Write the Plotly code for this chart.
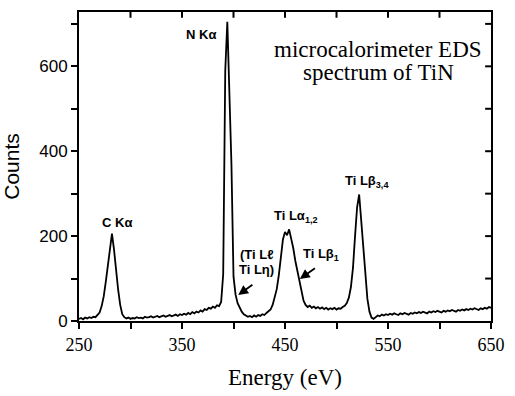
import plotly.graph_objects as go

# Energy bins (eV) and measured counts of the TiN spectrum
energy_ev = list(range(250, 651, 2))
counts = [
    5, 7, 4, 8, 6, 9, 7, 10, 9, 14,
    20, 35, 58, 92, 135, 178, 206, 168, 118, 74,
    38, 16, 9, 6, 8, 5, 7, 6, 9, 7,
    8, 6, 10, 8, 9, 11, 8, 10, 12, 9,
    11, 13, 10, 12, 14, 11, 13, 15, 12, 16,
    14, 17, 15, 19, 16, 21, 18, 22, 20, 25,
    22, 28, 26, 31, 29, 34, 31, 37, 35, 45,
    110, 590, 705, 515, 370, 105, 62, 42, 30, 22,
    16, 13, 10, 12, 9, 13, 10, 14, 12, 16,
    14, 19, 22, 27, 38, 55, 75, 108, 158, 192,
    210, 202, 216, 196, 172, 142, 118, 97, 70, 48,
    38, 33, 36, 31, 34, 30, 33, 29, 32, 28,
    31, 27, 30, 28, 31, 27, 30, 29, 33, 36,
    42, 55, 80, 125, 200, 268, 298, 238, 162, 100,
    52, 22, 8, 5, 9, 13, 11, 15, 13, 16,
    14, 17, 15, 18, 16, 14, 18, 16, 19, 17,
    15, 19, 17, 20, 18, 21, 19, 22, 20, 18,
    22, 20, 23, 21, 24, 22, 20, 24, 22, 25,
    23, 26, 24, 22, 26, 24, 27, 25, 28, 26,
    29, 27, 30, 28, 26, 30, 28, 31, 29, 33,
    31,
]

x_range = [250, 650]
y_range = [0, 728]
# Tick positions (every 50 eV / 100 counts); only some carry a label
x_tickvals = [250, 300, 350, 400, 450, 500, 550, 600, 650]
x_ticktext = ["250", "", "350", "", "450", "", "550", "", "650"]
y_tickvals = [0, 100, 200, 300, 400, 500, 600, 700]
y_ticktext = ["0", "", "200", "", "400", "", "600", ""]
# Inward-pointing ticks on the top and right frame edges
top_ticks = [300, 350, 400, 450, 500, 550, 600]
right_ticks = [100, 200, 300, 400, 500, 600, 700]

SERIF = "Liberation Serif"
SANS = "Liberation Sans"

fig = go.Figure()
fig.add_trace(go.Scatter(
    x=energy_ev, y=counts, mode="lines",
    line=dict(color="black", width=1.8),
    showlegend=False, hoverinfo="skip",
))

# Peak labels: (text, x, y)
peak_labels = [
    ("N Kα", 368.6, 676),
    ("C Kα", 286.5, 233),
    ("Ti Lα<sub>1,2</sub>", 461, 246),
    ("Ti Lβ<sub>3,4</sub>", 530, 328),
    ("(Ti Lℓ", 422.7, 156),
    ("Ti Lη)", 422.7, 122),
    ("Ti Lβ<sub>1</sub>", 485, 156),
]
for text, x, y in peak_labels:
    fig.add_annotation(
        x=x, y=y, xref="x", yref="y", text="<b>" + text + "</b>", showarrow=False,
        xanchor="center", yanchor="middle",
        font=dict(family=SANS, size=13, color="black"),
    )

# Arrows pointing at the weak lines: (tail x, tail y, head x, head y)
arrows = [
    (419.8, 88, 404.6, 61),
    (480.5, 127, 464.4, 99),
]
for tx, ty, hx, hy in arrows:
    fig.add_annotation(
        x=hx, y=hy, ax=tx, ay=ty, xref="x", yref="y", axref="x", ayref="y",
        text="", showarrow=True, arrowhead=2, arrowsize=1.1, arrowwidth=1.8,
        arrowcolor="black",
    )

# Inset caption
for text, y in [("microcalorimeter EDS", 640), ("spectrum of TiN", 585)]:
    fig.add_annotation(
        x=540.5, y=y, xref="x", yref="y", text=text, showarrow=False,
        xanchor="center", yanchor="middle",
        font=dict(family=SERIF, size=23, color="black"),
    )

# Frame ticks on the top edge (data x) and the right edge (data y)
TICK_FRAC_Y = 6 / 322
TICK_FRAC_X = 6 / 421
for v in top_ticks:
    fig.add_shape(type="line", xref="x", yref="paper", x0=v, x1=v,
                  y0=1, y1=1 - TICK_FRAC_Y, line=dict(color="black", width=2))
for v in right_ticks:
    fig.add_shape(type="line", xref="paper", yref="y", x0=1, x1=1 - TICK_FRAC_X,
                  y0=v, y1=v, line=dict(color="black", width=2))

fig.update_layout(
    width=515, height=396,
    margin=dict(l=79, r=15, t=10, b=64),
    paper_bgcolor="white", plot_bgcolor="white",
    xaxis=dict(
        range=x_range, tickmode="array", tickvals=x_tickvals, ticktext=x_ticktext,
        ticks="outside", ticklen=6, tickwidth=2, tickcolor="black",
        showline=True, linecolor="black", linewidth=2, mirror=True,
        showgrid=False, zeroline=False,
        tickfont=dict(family=SERIF, size=18, color="black"),
        title=dict(text="Energy (eV)", font=dict(family=SERIF, size=23, color="black")),
    ),
    yaxis=dict(
        range=y_range, tickmode="array", tickvals=y_tickvals, ticktext=y_ticktext,
        ticks="outside", ticklen=6, tickwidth=2, tickcolor="black",
        showline=True, linecolor="black", linewidth=2, mirror=True,
        showgrid=False, zeroline=False,
        tickfont=dict(family=SANS, size=17, color="black"),
        title=dict(text="Counts", font=dict(family=SANS, size=21, color="black")),
    ),
)

fig.write_html("out.html")
